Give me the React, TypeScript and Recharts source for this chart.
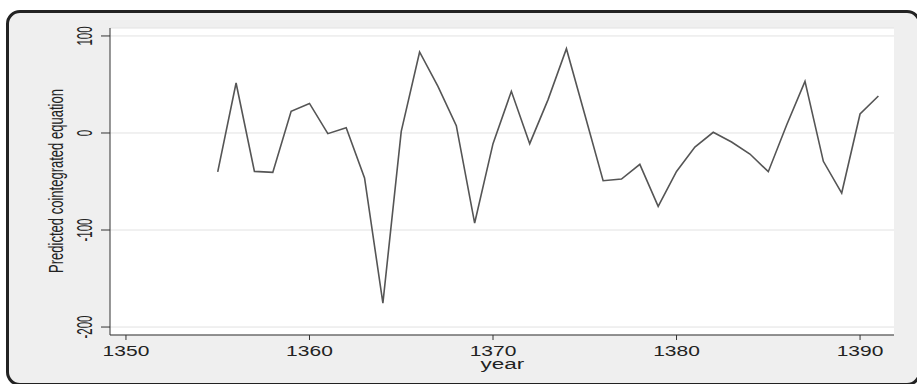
import React from "react";
import { LineChart, Line, XAxis, YAxis, CartesianGrid } from "recharts";

const years = [
  1355, 1356, 1357, 1358, 1359, 1360, 1361, 1362, 1363, 1364, 1365, 1366, 1367,
  1368, 1369, 1370, 1371, 1372, 1373, 1374, 1375, 1376, 1377, 1378, 1379, 1380,
  1381, 1382, 1383, 1384, 1385, 1386, 1387, 1388, 1389, 1390, 1391,
];

const predicted = [
  -40, 51.5, -39.6, -40.6, 22.3, 30.5, -0.7, 5.5, -46.4, -175.3, 1.7, 83.5, 48,
  7.5, -92.8, -11, 42.9, -11, 34.4, 86.9, 19, -49.2, -47.5, -32.3, -75.6, -39.6,
  -14.5, 0.7, -9.3, -21.7, -39.9, 8.2, 53.2, -29.2, -61.9, 19.6, 38.1,
];

const xTicks = [1350, 1360, 1370, 1380, 1390];
const yTicks = [-200, -100, 0, 100];

const data = years.map((year, i) => ({ year, value: predicted[i] }));

const FONT = "'Liberation Sans', Arial, sans-serif";
const INK = "#222";

function XTick({ x, payload }: any) {
  return (
    <text
      transform={`translate(${x},355.5) scale(1.45,1)`}
      textAnchor="middle"
      fontSize={14.5}
      fontFamily={FONT}
      fill={INK}
    >
      {payload.value}
    </text>
  );
}

function YTick({ y, payload }: any) {
  return (
    <text
      transform={`translate(91.5,${y}) rotate(-90) scale(0.52,1)`}
      textAnchor="middle"
      fontSize={22}
      fontFamily={FONT}
      fill={INK}
    >
      {payload.value}
    </text>
  );
}

export default function App() {
  return (
    <div
      style={{
        position: "absolute",
        left: 0,
        top: 0,
        width: 917,
        height: 384,
        overflow: "hidden",
        background: "#fff",
      }}
    >
      <div
        style={{
          position: "absolute",
          left: 6,
          top: 10,
          width: 915,
          height: 376,
          boxSizing: "border-box",
          border: "3px solid #222",
          borderRadius: 14,
          background: "#efefef",
        }}
      />
      <div style={{ position: "absolute", left: 0, top: 0 }}>
        <LineChart
          width={917}
          height={384}
          data={data}
          margin={{ top: 28, right: 23, left: 0, bottom: 0 }}
        >
          <CartesianGrid
            vertical={false}
            stroke="#e2e2e2"
            strokeWidth={1}
            fill="#ffffff"
          />
          <XAxis
            dataKey="year"
            type="number"
            domain={[1349.13, 1391.85]}
            ticks={xTicks}
            allowDataOverflow
            height={49}
            tickSize={5}
            axisLine={{ stroke: "#333", strokeWidth: 1 }}
            tickLine={{ stroke: "#333", strokeWidth: 1 }}
            tick={<XTick />}
            interval={0}
          />
          <YAxis
            type="number"
            domain={[-208.2, 108.2]}
            ticks={yTicks}
            allowDataOverflow
            width={110}
            tickSize={9}
            axisLine={{ stroke: "#333", strokeWidth: 1 }}
            tickLine={{ stroke: "#333", strokeWidth: 1 }}
            tick={<YTick />}
            interval={0}
          />
          <Line
            dataKey="value"
            type="linear"
            stroke="#555"
            strokeWidth={1.6}
            dot={false}
            isAnimationActive={false}
          />
          <text
            transform="translate(63,181) rotate(-90) scale(0.62,1)"
            textAnchor="middle"
            fontSize={21}
            fontFamily={FONT}
            fill={INK}
          >
            Predicted cointegrated equation
          </text>
          <text
            transform="translate(502.5,369) scale(1.5,1)"
            textAnchor="middle"
            fontSize={15}
            fontFamily={FONT}
            fill={INK}
          >
            year
          </text>
        </LineChart>
      </div>
    </div>
  );
}
